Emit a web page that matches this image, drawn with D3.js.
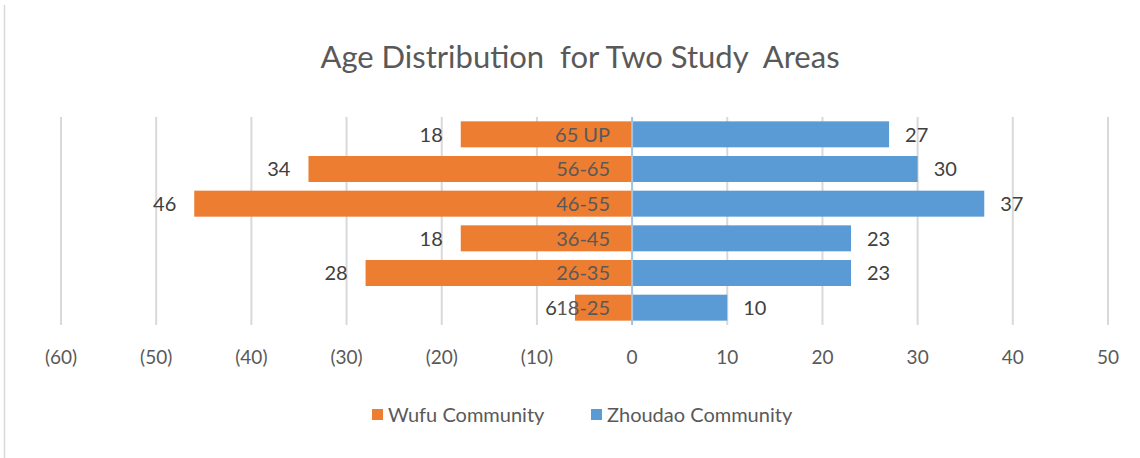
<!DOCTYPE html>
<html>
<head>
<meta charset="utf-8">
<script src="https://cdn.jsdelivr.net/npm/d3@7"></script>
<style>
  body { margin: 0; background: #fff; }
  text { font-family: Lato, "Open Sans", sans-serif; }
</style>
</head>
<body>
<div id="chart"></div>
<script>
var width = 1140, height = 458;

// age groups, top to bottom
var ageGroups = ['65 UP', '56-65', '46-55', '36-45', '26-35', '18-25'];
var wufu = [18, 34, 46, 18, 28, 6];
var zhoudao = [27, 30, 37, 23, 23, 10];
var tickValues = [-60, -50, -40, -30, -20, -10, 0, 10, 20, 30, 40, 50];
var seriesNames = ['Wufu Community', 'Zhoudao Community'];
var colors = ['#ED7D31', '#5B9BD5'];

var x = d3.scaleLinear()
    .domain([-60, 50])
    .range([61, 1108]);

var y = d3.scaleBand()
    .domain(ageGroups)
    .range([117, 325])
    .paddingInner(0.25)
    .paddingOuter(0.125);

var svg = d3.select('#chart').append('svg')
    .attr('width', width)
    .attr('height', height);

// left frame line
svg.append('line')
    .attr('x1', 4.5).attr('x2', 4.5)
    .attr('y1', 5).attr('y2', height)
    .style('stroke', '#d9d9d9')
    .style('stroke-width', 1.5);

svg.append('text')
    .attr('x', 580)
    .attr('y', 68)
    .attr('text-anchor', 'middle')
    .style('font-size', '31px')
    .style('fill', '#595959')
    .style('white-space', 'pre')
    .text('Age Distribution  for Two Study  Areas');

// gridlines
svg.selectAll('line.grid')
    .data(tickValues.filter(function(d) { return d != 0; }))
    .enter().append('line')
    .attr('class', 'grid')
    .attr('x1', function(d) { return x(d); })
    .attr('x2', function(d) { return x(d); })
    .attr('y1', 117).attr('y2', 325)
    .style('stroke', '#d9d9d9')
    .style('stroke-width', 2);

// tick labels
svg.selectAll('text.tick')
    .data(tickValues)
    .enter().append('text')
    .attr('class', 'tick')
    .attr('x', function(d) { return x(d); })
    .attr('y', 364)
    .attr('text-anchor', 'middle')
    .style('font-size', '19px')
    .style('fill', '#595959')
    .text(function(d) { return d < 0 ? '(' + (-d) + ')' : d; });

// bars
svg.selectAll('rect.wufu')
    .data(ageGroups)
    .enter().append('rect')
    .attr('class', 'wufu')
    .attr('x', function(d, i) { return x(-wufu[i]); })
    .attr('y', function(d) { return y(d); })
    .attr('width', function(d, i) { return x(0) - x(-wufu[i]); })
    .attr('height', y.bandwidth())
    .style('fill', colors[0]);

svg.selectAll('rect.zhoudao')
    .data(ageGroups)
    .enter().append('rect')
    .attr('class', 'zhoudao')
    .attr('x', x(0))
    .attr('y', function(d) { return y(d); })
    .attr('width', function(d, i) { return x(zhoudao[i]) - x(0); })
    .attr('height', y.bandwidth())
    .style('fill', colors[1]);

// zero axis
svg.append('line')
    .attr('x1', x(0)).attr('x2', x(0))
    .attr('y1', 117).attr('y2', 325)
    .style('stroke', '#9DC3E6')
    .style('stroke-width', 2);

// value labels
svg.selectAll('text.wlab')
    .data(ageGroups)
    .enter().append('text')
    .attr('class', 'wlab')
    .attr('x', function(d, i) { return x(-wufu[i]) - 18; })
    .attr('y', function(d) { return y(d) + y.bandwidth() / 2; })
    .attr('dy', '.36em')
    .attr('text-anchor', 'end')
    .style('font-size', '20px')
    .style('fill', '#404040')
    .text(function(d, i) { return wufu[i]; });

svg.selectAll('text.zlab')
    .data(ageGroups)
    .enter().append('text')
    .attr('class', 'zlab')
    .attr('x', function(d, i) { return x(zhoudao[i]) + 16; })
    .attr('y', function(d) { return y(d) + y.bandwidth() / 2; })
    .attr('dy', '.36em')
    .style('font-size', '20px')
    .style('fill', '#404040')
    .text(function(d, i) { return zhoudao[i]; });

// category labels sit just left of zero
svg.selectAll('text.cat')
    .data(ageGroups)
    .enter().append('text')
    .attr('class', 'cat')
    .attr('x', x(0) - 22)
    .attr('y', function(d) { return y(d) + y.bandwidth() / 2; })
    .attr('dy', '.36em')
    .attr('text-anchor', 'end')
    .style('font-size', '20px')
    .style('fill', '#595959')
    .text(function(d) { return d; });

// legend
var legendX = [372, 591];
var legend = svg.selectAll('g.legend')
    .data(seriesNames)
    .enter().append('g')
    .attr('class', 'legend')
    .attr('transform', function(d, i) { return 'translate(' + legendX[i] + ',409)'; });

legend.append('rect')
    .attr('width', 11).attr('height', 11)
    .style('fill', function(d, i) { return colors[i]; });

legend.append('text')
    .attr('x', 16)
    .attr('y', 6)
    .attr('dy', '.36em')
    .style('font-size', '20px')
    .style('fill', '#595959')
    .text(function(d) { return d; });
</script>
</body>
</html>
